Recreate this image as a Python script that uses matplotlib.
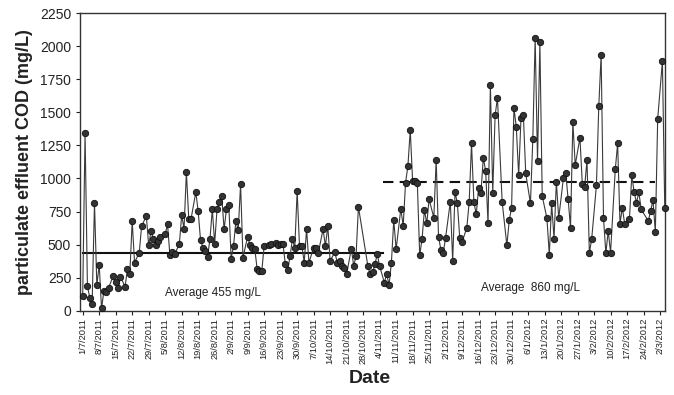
import matplotlib
matplotlib.use("Agg")
import matplotlib.pyplot as plt
import numpy as np

plt.rcParams['font.family'] = ['Liberation Sans', 'DejaVu Sans']

# days after 1/7/2011 and particulate effluent COD (mg/L)
days = [0, 1, 2, 3, 4, 5, 6, 7, 8, 9, 10, 11, 13, 14, 15, 16, 18, 19, 20, 21,
        22, 24, 25, 27, 28, 29, 30, 31, 32, 33, 35, 36, 37, 38, 39, 41, 42, 43, 44, 45,
        46, 48, 49, 50, 51, 52, 53, 54, 55, 56, 57, 58, 59,
        60, 61, 62, 63, 64, 65, 66, 67, 68, 70, 71, 72, 73, 74, 75, 76, 77, 79, 80, 82,
        83, 84, 85, 86, 87, 88, 89, 90, 91, 92, 93, 94, 95, 96, 98, 99, 100, 102, 103,
        104, 105, 107, 108, 109, 110, 111, 112, 114, 115, 116, 117,
        121, 122, 123, 124, 125, 126, 128, 129, 130, 131, 132, 133, 135, 136, 137, 138,
        139, 140, 141, 142, 143, 144, 145, 146, 147, 149, 150, 151, 152, 153, 154, 156,
        157, 158, 159, 160, 161, 163, 164, 165, 166, 167, 168, 169, 170, 171, 172, 173,
        174, 175, 176,
        178, 180, 181, 182, 183, 184, 185, 186, 187, 188, 190, 191, 192, 193, 194, 195,
        197, 198, 199, 200, 201, 202, 204, 205, 206, 207, 208, 209, 211, 212, 213, 214,
        215, 216, 218, 219, 220, 221, 222, 223, 224, 226, 227, 228, 229, 230, 232, 233,
        234, 235, 236, 237, 240, 241, 242, 243, 244, 246, 247]
cod = [113, 1345, 188, 100, 50, 817, 194, 347, 18, 151, 139, 176, 264, 219, 169, 256,
       184, 320, 282, 679, 365, 440, 641, 716, 495, 603, 541, 495, 528, 561, 578, 654,
       420, 445, 428, 503, 722, 621, 1048, 697, 697, 897, 752, 535, 478, 452, 410, 541,
       767, 508, 767, 822, 867,
       616, 767, 797, 395, 490, 679, 609, 955, 403, 561, 495, 478, 471, 320, 302, 302,
       490, 495, 503, 516, 495, 503, 503, 352, 307, 415, 541, 478, 905, 490, 490, 365,
       616, 365, 478, 478, 440, 616, 490, 641, 377, 445, 365, 377, 339, 327, 277, 471,
       339, 415, 787,
       339, 277, 290, 352, 428, 339, 214, 277, 196, 365, 686, 465, 772, 641, 968, 1094,
       1365, 980, 980, 968, 420, 541, 762, 661, 842, 704, 1139, 561, 460, 440, 553, 825,
       377, 897, 812, 551, 520, 629, 822, 1265, 822, 729, 930, 893, 1157, 1056, 661,
       1710, 893, 1476, 1609,
       822, 495, 684, 780, 1534, 1388, 1023, 1458, 1476, 1038, 812, 1295, 2062, 1131,
       2029, 867, 699, 422, 812, 546, 973, 699, 1006, 1038, 842, 629, 1428, 1101, 1308,
       961, 938, 1139, 435, 546, 948, 1546, 1936, 704, 435, 603, 440, 1069, 1265, 659,
       780, 654, 692, 1023, 897, 817, 897, 767, 679, 754, 837, 596, 1451, 1886, 775]

tick_days = list(range(0, 246, 7))
tick_labels = ['1/7/2011', '8/7/2011', '15/7/2011', '22/7/2011', '29/7/2011',
               '5/8/2011', '12/8/2011', '19/8/2011', '26/8/2011', '2/9/2011',
               '9/9/2011', '16/9/2011', '23/9/2011', '30/9/2011', '7/10/2011',
               '14/10/2011', '21/10/2011', '28/10/2011', '4/11/2011', '11/11/2011',
               '18/11/2011', '25/11/2011', '2/12/2011', '9/12/2011', '16/12/2011',
               '23/12/2011', '30/12/2011', '6/1/2012', '13/1/2012', '20/1/2012',
               '27/1/2012', '3/2/2012', '10/2/2012', '17/2/2012', '24/2/2012',
               '2/3/2012']

# average lines as drawn in the scan
avg1_span, avg1_level = (0, 127.5), 440
avg2_span, avg2_level = (127.5, 243), 970

fig = plt.figure(figsize=(6.74, 3.95), dpi=100)
ax = fig.add_axes([0.119, 0.213, 0.868, 0.754])

ax.plot(days, cod, color='#3a3a3a', lw=0.8, marker='o', markersize=4.6,
        markerfacecolor='#333333', markeredgecolor='#111111', markeredgewidth=0.6,
        clip_on=False, zorder=3)
ax.plot(avg1_span, [avg1_level] * 2, color='#111111', lw=1.5, zorder=2)
ax.plot(avg2_span, [avg2_level] * 2, color='#111111', lw=1.5, ls=(0, (5, 3)), zorder=2)

ax.text(35, 110, 'Average 455 mg/L', fontsize=8.5, color='#222222')
ax.text(169, 150, 'Average  860 mg/L', fontsize=8.5, color='#222222')

ax.set_xlim(-1.06, 247.2)
ax.set_ylim(0, 2250)
ax.set_yticks(np.arange(0, 2251, 250))
ax.tick_params(axis='y', labelsize=10, length=3, colors='#222222')
ax.set_xticks(tick_days)
ax.set_xticklabels(tick_labels, rotation=90, fontsize=6.7)
ax.tick_params(axis='x', length=3, pad=2, colors='#222222')

for s in ax.spines.values():
    s.set_color('#333333')
    s.set_linewidth(1.0)

ax.set_ylabel('particulate effluent COD (mg/L)', fontsize=13, fontweight='bold',
              color='#222222', labelpad=5)
fig.text(0.548, 0.03, 'Date', fontsize=14, fontweight='bold', color='#222222',
         ha='center')

fig.savefig('out.png', dpi=100)
